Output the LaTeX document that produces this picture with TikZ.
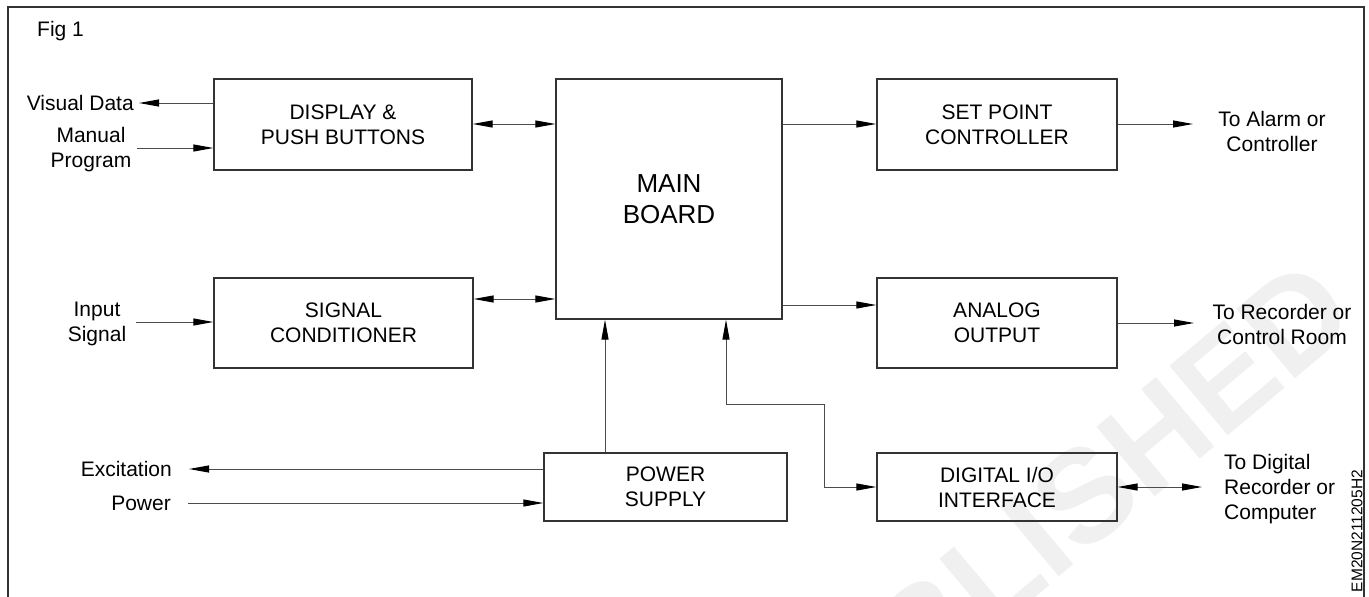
\documentclass[tikz,border=0pt]{standalone}
\usepackage{fontspec}
\setmainfont{Liberation Sans}
\usetikzlibrary{arrows.meta}
\begin{document}
\begin{tikzpicture}[x=1pt,y=-1pt,
  box/.style={draw=black!80, line width=1.3pt, inner sep=0pt, align=center,
    font=\fontsize{21}{25}\selectfont},
  lbl/.style={inner sep=0pt, align=center, font=\fontsize{21}{25}\selectfont},
  con/.style={draw=black!70, line width=1pt},
  arr/.style={con, -{Triangle[length=20pt,width=7pt,fill=black,color=black]}},
  biarr/.style={con, {Triangle[length=20pt,width=7pt,fill=black,color=black]}-{Triangle[length=20pt,width=7pt,fill=black,color=black]}}
]
\useasboundingbox (0,0) rectangle (1369,597);
\clip (0,0) rectangle (1369,597);
\fill[white] (0,0) rectangle (1369,597);

% watermark
\node[rotate=40, anchor=base east, inner sep=0pt, text=black!6,
  font=\fontsize{132}{132}\selectfont\bfseries] (wm) at (1362,323) {REPUBLISHED};

% frame
\draw[draw=black!80, line width=1.2pt] (8,620) -- (8,7) -- (1364,7) -- (1364,620);

\node[lbl, anchor=west] (fig) at (37,31) {Fig 1};

% blocks
\node[box, minimum width=258pt, minimum height=91pt] (disp) at (343,124.5) {DISPLAY \&\\PUSH BUTTONS};
\node[box, minimum width=226pt, minimum height=240pt, font=\fontsize{26}{31}\selectfont] (main) at (669,199) {MAIN\\BOARD};
\node[box, minimum width=240pt, minimum height=91pt] (setp) at (997,124.5) {SET POINT\\CONTROLLER};
\node[box, minimum width=259pt, minimum height=90pt] (sig) at (343.5,323) {SIGNAL\\CONDITIONER};
\node[box, minimum width=240pt, minimum height=90pt] (ana) at (997,323) {ANALOG\\OUTPUT};
\node[box, minimum width=243pt, minimum height=68pt] (pow) at (665.5,487) {POWER\\SUPPLY};
\node[box, minimum width=240pt, minimum height=68pt] (dig) at (997,487) {DIGITAL I/O\\INTERFACE};

% outside labels
\node[lbl, anchor=east] (vd) at (134,103) {Visual Data};
\node[lbl] (mp) at (91,150) {Manual\\Program};
\node[lbl] (is) at (97,324) {Input\\Signal};
\node[lbl, anchor=east] (ex) at (172,469) {Excitation};
\node[lbl, anchor=east] (pw) at (171,503) {Power};
\node[lbl] (alarm) at (1272,131) {To Alarm or\\Controller};
\node[lbl] (rec) at (1282,324.5) {To Recorder or\\Control Room};
\node[lbl, align=left, anchor=west] (dc) at (1224,489) {To Digital\\Recorder or\\Computer};
\node[lbl, rotate=90, font=\fontsize{15.5}{18}\selectfont] (code) at (1357,531) {EM20N211205H2};

% free ends
\coordinate (vdE) at (139,103);
\coordinate (mpE) at (137,148);
\coordinate (isE) at (136,322);
\coordinate (exE) at (189,469);
\coordinate (pwE) at (188,503);
\coordinate (alE) at (1193,124);
\coordinate (reE) at (1194,323);
\coordinate (dcE) at (1202,487);
\coordinate (y1) at (0,124);
\coordinate (y2) at (0,299);
\coordinate (y3) at (0,305);
\coordinate (x1) at (605,0);
\coordinate (x2) at (726,0);
\coordinate (bend1) at (824,404);

% connectors
\draw[arr] (disp.west |- vdE) -- (vdE);
\draw[arr] (mpE) -- (disp.west |- mpE);
\draw[arr] (isE) -- (sig.west |- isE);
\draw[biarr] (disp.east |- y1) -- (main.west |- y1);
\draw[biarr] (sig.east |- y2) -- (main.west |- y2);
\draw[arr] (main.east |- y1) -- (setp.west |- y1);
\draw[arr] (main.east |- y3) -- (ana.west |- y3);
\draw[arr] (setp.east |- alE) -- (alE);
\draw[arr] (ana.east |- reE) -- (reE);
\draw[biarr] (dig.east) -- (dcE);
\draw[arr] (pow.north -| x1) -- (main.south -| x1);
\draw[biarr] (main.south -| x2) |- (bend1) |- (dig.west);
\draw[arr] (pow.west |- exE) -- (exE);
\draw[arr] (pwE) -- (pow.west |- pwE);
\end{tikzpicture}
\end{document}
